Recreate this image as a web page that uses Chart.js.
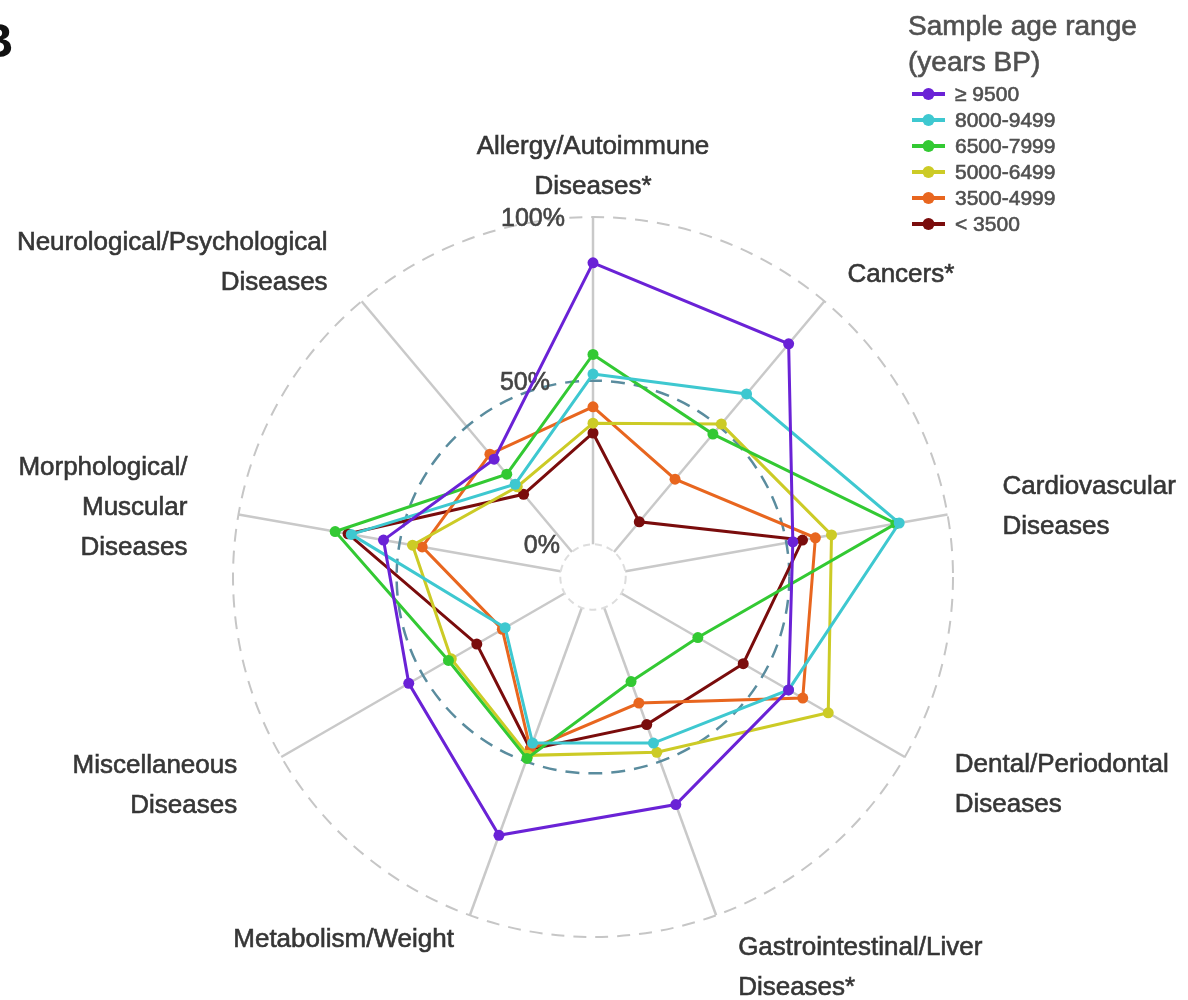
<!DOCTYPE html>
<html>
<head>
<meta charset="utf-8">
<script src="https://cdn.jsdelivr.net/npm/chart.js@4.4.1/dist/chart.umd.min.js"></script>
<style>
  html, body { margin: 0; padding: 0; background: #ffffff; }
  canvas { display: block; }
</style>
</head>
<body>
<canvas id="radarChart" width="1188" height="1000"></canvas>
<script>
// Categories, clockwise from the top
const categories = [
    ['Allergy/Autoimmune', 'Diseases*'],
    ['Cancers*'],
    ['Cardiovascular', 'Diseases'],
    ['Dental/Periodontal', 'Diseases'],
    ['Gastrointestinal/Liver', 'Diseases*'],
    ['Metabolism/Weight'],
    ['Miscellaneous', 'Diseases'],
    ['Morphological/', 'Muscular', 'Diseases'],
    ['Neurological/Psychological', 'Diseases']
];

// Series values (% of samples), same order as categories
const age9500plus = [86, 83, 52, 59, 64, 74, 55, 55, 37];
const age8000to9499 = [52, 63, 85, 59, 44, 44, 21, 65, 27];
const age6500to7999 = [58, 47, 84, 27, 24, 49, 41, 70, 31];
const age5000to6499 = [37, 51, 64, 73, 47, 48, 40, 46, 26];
const age3500to4999 = [42, 29, 59, 64, 31, 46, 22, 43, 39];
const ageUnder3500 = [34, 12, 55, 43, 38, 46, 31, 66, 23];

const seriesLabels = ['\u2265 9500', '8000-9499', '6500-7999', '5000-6499', '3500-4999', '< 3500'];
const seriesColors = ['#6a22d6', '#3ec8d0', '#33c933', '#cccb26', '#e8661f', '#7a0c0c'];
const seriesValues = [age9500plus, age8000to9499, age6500to7999, age5000to6499, age3500to4999, ageUnder3500];

// Rings and their labels
const tickValues = [0, 50, 100];
const tickLabels = ['0%', '50%', '100%'];

const FONT = "'Liberation Sans', Arial, Helvetica, sans-serif";
const TEXT = '#363636';

// label placement relative to the end of each spoke: [dx, dy of first line, align]
const labelLayout = [
    [0, -70, 'center'],
    [23, -26, 'left'],
    [55, -28, 'left'],
    [50, 8, 'left'],
    [22, 33, 'left'],
    [-16, 25, 'right'],
    [-44, 9, 'right'],
    [-51, -47, 'right'],
    [-34, -58, 'right']
];
const tickLabelShift = [33, 43, 28];

function ring(ctx, x, y, radius, color, width, dash) {
    ctx.beginPath();
    ctx.arc(x, y, radius, 0, Math.PI * 2);
    ctx.strokeStyle = color;
    ctx.lineWidth = width;
    ctx.setLineDash(dash);
    ctx.stroke();
    ctx.setLineDash([]);
}

// slightly heavier text, like the source figure
function heavyText(ctx, str, x, y, color) {
    ctx.fillStyle = color;
    ctx.strokeStyle = color;
    ctx.lineWidth = 0.6;
    ctx.fillText(str, x, y);
    ctx.strokeText(str, x, y);
}

const decorPlugin = {
    id: 'decor',
    beforeDatasetsDraw(chart) {
        const ctx = chart.ctx;
        const scale = chart.scales.r;
        const cx = scale.xCenter, cy = scale.yCenter;
        ctx.save();
        ring(ctx, cx, cy, scale.getDistanceFromCenterForValue(100), '#c6c6c6', 2, [13, 9]);
        ring(ctx, cx, cy, scale.getDistanceFromCenterForValue(50), '#5a8c9e', 2.5, [14, 9]);

        // hollow centre at 0%
        const r0 = scale.getDistanceFromCenterForValue(0);
        ctx.beginPath();
        ctx.arc(cx, cy, r0, 0, Math.PI * 2);
        ctx.fillStyle = '#ffffff';
        ctx.fill();
        ring(ctx, cx, cy, r0, '#dddddd', 2, [7, 5]);

        // percentage labels next to the top spoke
        ctx.font = '25px ' + FONT;
        ctx.textAlign = 'right';
        ctx.textBaseline = 'middle';
        tickValues.forEach((v, k) => {
            const d = scale.getDistanceFromCenterForValue(v);
            heavyText(ctx, tickLabels[k], cx - tickLabelShift[k], cy - d + 2, '#444444');
        });
        ctx.restore();
    },
    afterDraw(chart) {
        const ctx = chart.ctx;
        const scale = chart.scales.r;
        ctx.save();

        // category labels
        ctx.font = '26px ' + FONT;
        ctx.textBaseline = 'middle';
        categories.forEach((lines, i) => {
            const p = scale.getPointPosition(i, scale.drawingArea);
            const [dx, dy, align] = labelLayout[i];
            ctx.textAlign = align;
            lines.forEach((line, j) => {
                heavyText(ctx, line, p.x + dx, p.y + dy + j * 40, TEXT);
            });
        });

        // panel letter
        ctx.font = 'bold 49px ' + FONT;
        ctx.fillStyle = '#111111';
        ctx.textAlign = 'left';
        ctx.textBaseline = 'alphabetic';
        ctx.fillText('B', -22, 57);

        // legend
        ctx.font = '28px ' + FONT;
        heavyText(ctx, 'Sample age range', 908, 35, '#505050');
        heavyText(ctx, '(years BP)', 908, 71, '#505050');
        ctx.font = '21px ' + FONT;
        ctx.textBaseline = 'middle';
        seriesLabels.forEach((label, k) => {
            const y = 94 + k * 26;
            ctx.strokeStyle = seriesColors[k];
            ctx.lineWidth = 4;
            ctx.beginPath();
            ctx.moveTo(912, y);
            ctx.lineTo(945, y);
            ctx.stroke();
            ctx.beginPath();
            ctx.arc(928.5, y, 6, 0, Math.PI * 2);
            ctx.fillStyle = seriesColors[k];
            ctx.fill();
            heavyText(ctx, label, 955, y + 1, '#505050');
        });
        ctx.restore();
    }
};

const datasets = seriesLabels.map((label, k) => ({
    label: label,
    data: seriesValues[k],
    borderColor: seriesColors[k],
    backgroundColor: seriesColors[k],
    pointBackgroundColor: seriesColors[k],
    pointBorderColor: seriesColors[k],
    borderWidth: 3,
    pointRadius: 5.5,
    pointBorderWidth: 0,
    fill: false,
    tension: 0
}));

new Chart(document.getElementById('radarChart'), {
    type: 'radar',
    data: {
        labels: categories.map(c => c.join(' ')),
        datasets: datasets
    },
    options: {
        responsive: false,
        animation: false,
        layout: {
            padding: { left: 233, right: 235, top: 217, bottom: 63 }
        },
        plugins: {
            legend: { display: false },
            tooltip: { enabled: false }
        },
        scales: {
            r: {
                min: -10,
                max: 100,
                startAngle: 0,
                grid: { display: false },
                angleLines: { display: true, color: '#c9c9c9', lineWidth: 2.5 },
                ticks: { display: false },
                pointLabels: { display: false }
            }
        }
    },
    plugins: [decorPlugin]
});
</script>
</body>
</html>
